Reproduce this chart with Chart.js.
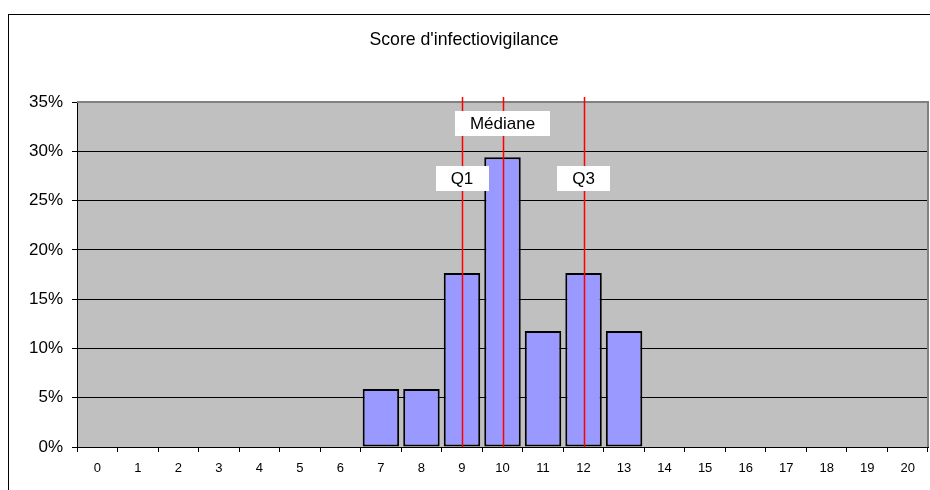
<!DOCTYPE html>
<html>
<head>
<meta charset="utf-8">
<script src="https://cdn.jsdelivr.net/npm/chart.js@4.4.1/dist/chart.umd.min.js"></script>
<style>
  html, body { margin: 0; padding: 0; background: #fff; }
  #wrap { width: 930px; height: 490px; position: relative; }
</style>
</head>
<body>
<div id="wrap"><canvas id="c"></canvas></div>
<script>
// scores 0..20, share of respondents (17 answers)
var scores = ['0', '1', '2', '3', '4', '5', '6', '7', '8', '9', '10',
  '11', '12', '13', '14', '15', '16', '17', '18', '19', '20'];
var shares = [0, 0, 0, 0, 0, 0, 0, 0.0588, 0.0588, 0.1765, 0.2941,
  0.1176, 0.1765, 0.1176, 0, 0, 0, 0, 0, 0, 0];

// quartile markers (score where the red line sits)
var markerLabels = ['Q1', 'Médiane', 'Q3'];
var markerScores = ['9', '10', '12'];
var markerLevels = [1, 0, 1]; // 0 = upper label row, 1 = lower row

var yTicks = [0, 0.05, 0.10, 0.15, 0.20, 0.25, 0.30, 0.35];

var FONT = "'Liberation Sans', Arial, sans-serif";

var framePlugin = {
  id: 'frame',
  beforeDraw: function (chart) {
    var ctx = chart.ctx;
    var a = chart.chartArea;
    ctx.save();
    ctx.fillStyle = '#ffffff';
    ctx.fillRect(0, 0, chart.width, chart.height);
    // outer chart border, runs off the right and bottom
    ctx.strokeStyle = '#000000';
    ctx.lineWidth = 1;
    ctx.strokeRect(8.5, 14.5, chart.width + 20, chart.height + 20);
    // plot area
    ctx.fillStyle = '#c0c0c0';
    ctx.fillRect(a.left, a.top, a.right - a.left, a.bottom - a.top);
    ctx.restore();
  },
  afterDatasetsDraw: function (chart) {
    var ctx = chart.ctx;
    var a = chart.chartArea;
    var x = chart.scales.x;
    ctx.save();
    // grey plot border top / right
    ctx.strokeStyle = '#808080';
    ctx.lineWidth = 2;
    ctx.beginPath();
    ctx.moveTo(a.left, a.top);
    ctx.lineTo(a.right, a.top);
    ctx.lineTo(a.right, a.bottom);
    ctx.stroke();

    // red quartile lines
    ctx.strokeStyle = '#ff0000';
    ctx.lineWidth = 1.5;
    markerScores.forEach(function (s) {
      var px = Math.round(x.getPixelForValue(scores.indexOf(s))) + 0.5;
      ctx.beginPath();
      ctx.moveTo(px, a.top - 5);
      ctx.lineTo(px, a.bottom);
      ctx.stroke();
    });

    // label boxes
    ctx.font = '17px ' + FONT;
    ctx.textAlign = 'center';
    ctx.textBaseline = 'middle';
    markerLabels.forEach(function (lbl, i) {
      var px = x.getPixelForValue(scores.indexOf(markerScores[i]));
      var cy = a.top + (markerLevels[i] === 0 ? 21 : 76);
      var w = ctx.measureText(lbl).width + 30;
      ctx.fillStyle = '#ffffff';
      ctx.fillRect(Math.round(px - w / 2), Math.round(cy - 12.5), Math.round(w), 25);
      ctx.fillStyle = '#000000';
      ctx.fillText(lbl, px, cy + 1);
    });
    ctx.restore();
  }
};

new Chart(document.getElementById('c'), {
  type: 'bar',
  data: {
    labels: scores,
    datasets: [{
      label: "Score d'infectiovigilance",
      data: shares,
      backgroundColor: '#9999ff',
      borderColor: '#000000',
      borderWidth: 2,
      borderSkipped: false,
      categoryPercentage: 0.9,
      barPercentage: 1.0
    }]
  },
  options: {
    responsive: true,
    maintainAspectRatio: false,
    animation: false,
    devicePixelRatio: 1,
    layout: { padding: { left: 0, right: 2, top: 0, bottom: 0 } },
    plugins: {
      legend: { display: false },
      tooltip: { enabled: false },
      title: {
        display: true,
        text: "Score d'infectiovigilance",
        color: '#000000',
        font: { family: FONT, size: 17.7, weight: 'normal' },
        padding: { top: 29.5, bottom: 51.3 }
      }
    },
    scales: {
      x: {
        offset: true,
        grid: { display: true, drawOnChartArea: false, drawTicks: true, tickLength: 5, tickColor: '#000000', offset: true },
        border: { display: true, color: '#000000', width: 1 },
        ticks: { color: '#000000', font: { family: FONT, size: 13 }, padding: 9, maxRotation: 0, autoSkip: false },
        afterFit: function (scale) { scale.height = 43; }
      },
      y: {
        min: 0,
        max: 0.35,
        afterBuildTicks: function (scale) {
          scale.ticks = yTicks.map(function (v) { return { value: v }; });
        },
        grid: { color: '#000000', lineWidth: 1, drawTicks: true, tickLength: 5, tickColor: '#000000' },
        border: { display: true, color: '#000000', width: 1 },
        ticks: {
          color: '#000000',
          font: { family: FONT, size: 17 },
          padding: 9,
          callback: function (v) { return Math.round(v * 100) + '%'; }
        },
        afterFit: function (scale) { scale.width = 77; }
      }
    }
  },
  plugins: [framePlugin]
});
</script>
</body>
</html>
